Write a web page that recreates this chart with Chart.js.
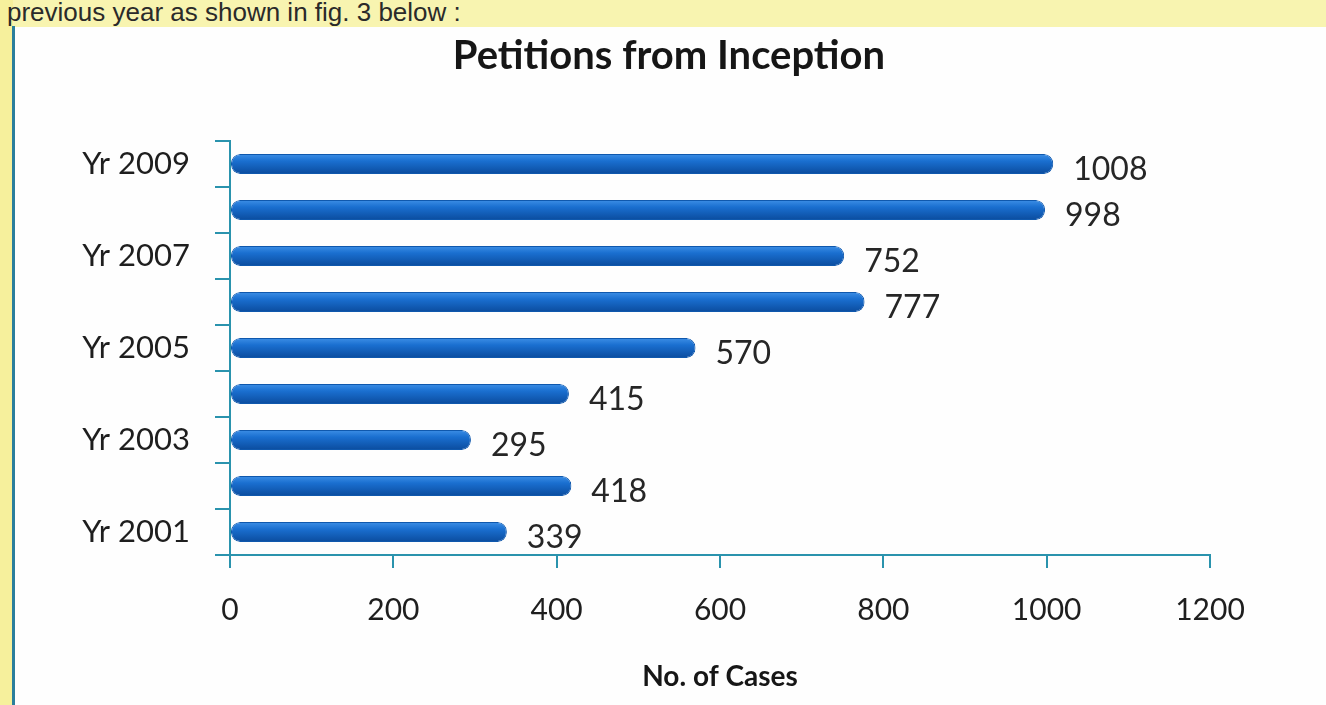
<!DOCTYPE html>
<html>
<head>
<meta charset="utf-8">
<script src="https://cdn.jsdelivr.net/npm/chart.js@4.4.0/dist/chart.umd.min.js"></script>
<style>
  html, body { margin: 0; padding: 0; background: #ffffff; }
  #page { position: relative; width: 1326px; height: 705px; overflow: hidden; background: #fefefe; }
  #topband { position: absolute; left: 0; top: 0; width: 1326px; height: 27px; background: #f8f4b0; }
  #leftband { position: absolute; left: 0; top: 0; width: 13px; height: 705px; background: #f6f09c; }
  #leftline { position: absolute; left: 12px; top: 26px; width: 3px; height: 679px; background: #2b7f9c; }
  #header { position: absolute; left: 7px; top: -3px; font-family: "Liberation Sans", Arial, sans-serif;
            font-size: 26px; color: #2a2a2a; white-space: nowrap; }
  #wrap { position: absolute; left: 0; top: 0; width: 1326px; height: 705px; }
</style>
</head>
<body>
<div id="page">
  <div id="topband"></div>
  <div id="leftband"></div>
  <div id="leftline"></div>
  <div id="header">previous year as shown in fig. 3 below :</div>
  <div id="wrap"><canvas id="chart"></canvas></div>
</div>
<script>
// data
const categories = ['Yr 2001', 'Yr 2002', 'Yr 2003', 'Yr 2004', 'Yr 2005', 'Yr 2006', 'Yr 2007', 'Yr 2008', 'Yr 2009'];
const cases = [339, 418, 295, 415, 570, 777, 752, 998, 1008];
const xTicks = [0, 200, 400, 600, 800, 1000, 1200];
const chartTitle = 'Petitions from Inception';

const axisColor = '#2a93ad';

// the title sits a bit off the canvas centre in the original, so draw it here
const titlePlugin = {
  id: 'offsetTitle',
  afterDraw(chart) {
    const c = chart.ctx;
    c.save();
    c.font = 'bold 40px Lato';
    c.fillStyle = '#161616';
    c.textAlign = 'center';
    c.textBaseline = 'middle';
    c.fillText(chartTitle, 669, 56);
    c.restore();
  }
};

// value labels at the end of each bar
const valueLabels = {
  id: 'valueLabels',
  afterDatasetsDraw(chart) {
    const c = chart.ctx;
    const meta = chart.getDatasetMeta(0);
    c.save();
    c.font = '32px Lato';
    c.fillStyle = '#262626';
    c.textAlign = 'left';
    c.textBaseline = 'middle';
    meta.data.forEach((bar, i) => {
      c.fillText(String(cases[i]), bar.x + 20, bar.y + 6);
    });
    c.restore();
  }
};

// shaded blue, lighter on top like the original's tube bars
function barFill(context) {
  const chart = context.chart;
  const yScale = chart.scales.y;
  if (!yScale || context.dataIndex === undefined) return '#1a6dcc';
  const yc = yScale.getPixelForValue(context.dataIndex);
  if (!isFinite(yc)) return '#1a6dcc';
  const g = chart.ctx.createLinearGradient(0, yc - 10, 0, yc + 10);
  g.addColorStop(0, '#3d8fe6');
  g.addColorStop(0.35, '#1a6fd0');
  g.addColorStop(1, '#0b4c9e');
  return g;
}

const ctx = document.getElementById('chart').getContext('2d');
new Chart(ctx, {
  type: 'bar',
  data: {
    labels: categories,
    datasets: [{
      label: 'No. of Cases',
      data: cases,
      backgroundColor: barFill,
      borderColor: '#0f58ad',
      borderWidth: 1,
      borderRadius: 9,
      borderSkipped: false,
      barPercentage: 0.9,
      categoryPercentage: 0.48
    }]
  },
  plugins: [valueLabels, titlePlugin],
  options: {
    indexAxis: 'y',
    responsive: true,
    maintainAspectRatio: false,
    animation: false,
    layout: { padding: { left: 30, right: 116, top: 141, bottom: 0 } },
    plugins: {
      legend: { display: false },
      tooltip: { enabled: false },
      title: { display: false }
    },
    scales: {
      x: {
        min: 0,
        max: 1200,
        afterFit(scale) { scale.height = 150; },
        afterBuildTicks(scale) { scale.ticks = xTicks.map(v => ({ value: v })); },
        border: { display: true, color: axisColor, width: 2 },
        grid: { drawOnChartArea: false, drawTicks: true, tickLength: 13, color: axisColor, lineWidth: 2 },
        ticks: {
          color: '#1e1e1e',
          padding: 24,
          font: { family: 'Lato', size: 30 },
          callback(value) { return String(value); }
        },
        title: {
          display: true,
          text: 'No. of Cases',
          color: '#161616',
          font: { family: 'Lato', size: 28, weight: 'bold', lineHeight: 1.2 },
          padding: { top: 0, bottom: 11 }
        }
      },
      y: {
        reverse: true,
        afterFit(scale) { scale.width = 200; },
        border: { display: true, color: axisColor, width: 2 },
        grid: { drawOnChartArea: false, drawTicks: true, tickLength: 15, color: axisColor, lineWidth: 2 },
        ticks: {
          autoSkip: false,
          color: '#1e1e1e',
          padding: 25,
          font: { family: 'Lato', size: 31 },
          callback(value, index) { return index % 2 === 0 ? categories[index] : ''; }
        }
      }
    }
  }
});
</script>
</body>
</html>
